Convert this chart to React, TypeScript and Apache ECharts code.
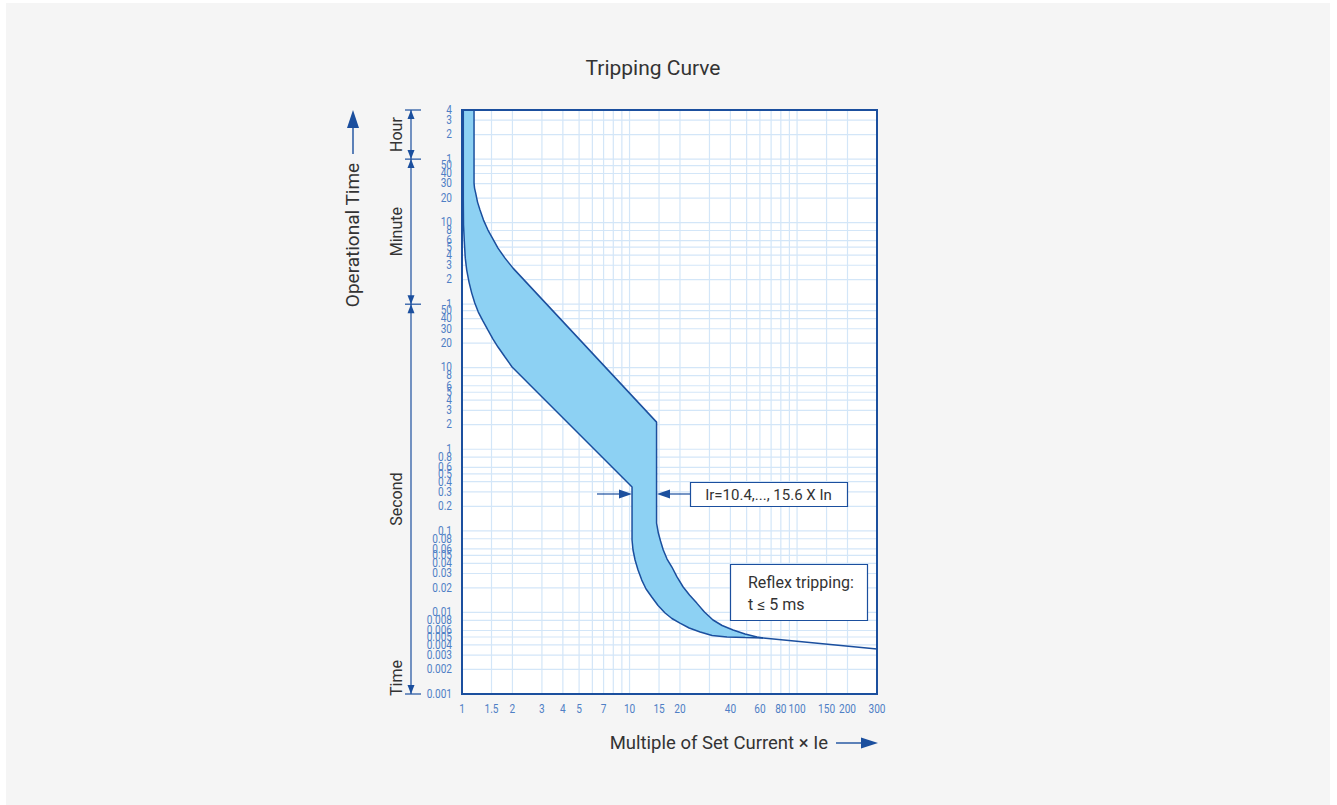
import React, { useEffect, useRef } from 'react';
import * as echarts from 'echarts';

// ---------- data ----------
const xTickLabels = [1, 1.5, 2, 3, 4, 5, 7, 10, 15, 20, 40, 60, 80, 100, 150, 200, 300];
const xGridValues = [1, 1.5, 2, 3, 4, 5, 6, 7, 8, 9, 10, 15, 20, 30, 40, 50, 60, 70, 80, 90, 100, 150, 200, 300];
const secondTicks = [0.001, 0.002, 0.003, 0.004, 0.005, 0.006, 0.008, 0.01, 0.02, 0.03, 0.04, 0.05, 0.06, 0.08, 0.1, 0.2, 0.3, 0.4, 0.5, 0.6, 0.8, 1, 2, 3, 4, 5, 6, 8, 10, 20, 30, 40, 50];
const minuteTicks = [1, 2, 3, 4, 5, 6, 8, 10, 20, 30, 40, 50];
const hourTicks = [1, 2, 3, 4];

// band boundaries: current multiple (x) and tripping time in seconds (y)
const upperX = [1.18, 1.18, 1.188, 1.207, 1.238, 1.281, 1.344, 1.429, 1.531, 1.64, 1.806, 2.016, 14.5, 14.5, 14.86, 15.31, 15.9, 16.75, 17.9, 19.2, 20.9, 22.8, 25.2, 28.0, 31.5, 35.7, 41.5, 48.9, 57.7, 62.7];
const upperY = [14400, 1829, 1589, 1380, 1070, 854, 644, 486, 377, 292, 220, 166, 2.15, 0.1247, 0.094, 0.075, 0.0582, 0.0451, 0.036, 0.0272, 0.0205, 0.01634, 0.013, 0.01011, 0.00807, 0.00691, 0.00609, 0.00544, 0.005, 0.00486];
const lowerX = [1.018, 1.018, 1.021, 1.035, 1.046, 1.067, 1.101, 1.143, 1.192, 1.251, 1.335, 1.429, 1.531, 1.64, 1.806, 1.99, 10.35, 10.35, 10.49, 10.79, 11.24, 11.83, 12.55, 13.57, 14.8, 16.3, 17.9, 20.0, 22.7, 26.4, 31.1, 38.2, 48.9, 62.7];
const lowerY = [14400, 1132, 559, 318, 220, 157, 112, 82, 61.9, 48, 37.2, 28.9, 22.4, 17.9, 13.5, 10.2, 0.344, 0.0771, 0.0582, 0.0439, 0.0331, 0.0249, 0.01936, 0.01545, 0.01215, 0.00984, 0.00842, 0.00741, 0.00644, 0.00575, 0.00521, 0.005, 0.00491, 0.00486];
const tailX = [62.7, 300];
const tailY = [0.00486, 0.00356];

const X_MIN = 1;
const X_MAX = 300;
const Y_MIN = 0.001;
const Y_MAX = 14400;

// ---------- styles ----------
const DARK = '#1b4f9e';
const FILL = '#8dd1f3';
const GRID = '#d3e6f8';
const TICK = '#4f7fc5';
const TEXT = '#333333';
const FONT = 'Roboto, sans-serif';

const L = Math.log10;

type Tick = { sec: number; label: string };
const yTicks: Tick[] = [
  ...secondTicks.map((v) => ({ sec: v, label: String(v) })),
  ...minuteTicks.map((v) => ({ sec: v * 60, label: String(v) })),
  ...hourTicks.map((v) => ({ sec: v * 3600, label: String(v) })),
];

function textEl(x: number, y: number, text: string, size: number, color: string, align: string, vAlign: string, rotation = 0, z = 100) {
  return {
    type: 'text',
    x,
    y,
    rotation,
    z,
    silent: true,
    style: {
      text,
      fill: color,
      font: `${size}px ${FONT}`,
      align,
      textAlign: align,
      verticalAlign: vAlign,
      textVerticalAlign: vAlign,
    },
  };
}

function lineEl(x1: number, y1: number, x2: number, y2: number, color: string, w = 1.2, z = 100) {
  return { type: 'line', z, silent: true, shape: { x1, y1, x2, y2 }, style: { stroke: color, lineWidth: w } };
}

function polyEl(points: number[][], color: string, z = 100) {
  return { type: 'polygon', z, silent: true, shape: { points }, style: { fill: color } };
}

export default function App() {
  const ref = useRef<HTMLDivElement>(null);

  useEffect(() => {
    if (!ref.current) return;
    const chart = echarts.init(ref.current, undefined, { renderer: 'svg' });

    const toPts = (xs: number[], ys: number[]) => xs.map((x, i) => [L(x), L(ys[i])]);
    const upper = toPts(upperX, upperY);
    const lower = toPts(lowerX, lowerY);
    const tail = toPts(tailX, tailY);

    const tickText = (x: number, y: number, text: string, align: string) => ({
      type: 'text',
      x,
      y,
      scaleX: 0.84,
      style: {
        text,
        fill: TICK,
        font: `12px ${FONT}`,
        align,
        textAlign: align,
        verticalAlign: 'middle',
        textVerticalAlign: 'middle',
      },
    });

    const option: any = {
      animation: false,
      backgroundColor: 'transparent',
      grid: {
        left: 462,
        top: 110,
        width: 415,
        height: 584,
        show: true,
        backgroundColor: '#ffffff',
        borderWidth: 0,
        containLabel: false,
        outerBoundsMode: 'none',
      },
      xAxis: { type: 'value', min: L(X_MIN), max: L(X_MAX), show: false },
      yAxis: { type: 'value', min: L(Y_MIN), max: L(Y_MAX), show: false },
      series: [
        {
          type: 'custom',
          silent: true,
          dimensions: ['x', 'y'],
          encode: { x: 0, y: 1 },
          data: xGridValues.map((v) => [L(v), L(Y_MIN)]),
          renderItem: (_p: any, api: any) => {
            const a = api.coord([api.value(0), L(Y_MIN)]);
            const b = api.coord([api.value(0), L(Y_MAX)]);
            return { type: 'line', shape: { x1: a[0], y1: a[1], x2: b[0], y2: b[1] }, style: { stroke: GRID, lineWidth: 1.2 } };
          },
        },
        {
          type: 'custom',
          silent: true,
          dimensions: ['x', 'y'],
          encode: { x: 0, y: 1 },
          data: yTicks.map((t) => [L(X_MIN), L(t.sec)]),
          renderItem: (_p: any, api: any) => {
            const a = api.coord([L(X_MIN), api.value(1)]);
            const b = api.coord([L(X_MAX), api.value(1)]);
            return { type: 'line', shape: { x1: a[0], y1: a[1], x2: b[0], y2: b[1] }, style: { stroke: GRID, lineWidth: 1.2 } };
          },
        },
        {
          type: 'custom',
          silent: true,
          dimensions: ['x', 'y'],
          encode: { x: 0, y: 1 },
          data: [[L(X_MIN), L(Y_MIN)]],
          renderItem: (_p: any, api: any) => {
            const pts = [...upper, ...lower.slice().reverse()].map((p) => api.coord(p));
            return { type: 'polygon', shape: { points: pts }, style: { fill: FILL } };
          },
        },
        { type: 'line', silent: true, symbol: 'none', data: upper, lineStyle: { color: DARK, width: 1.5 } },
        { type: 'line', silent: true, symbol: 'none', data: lower, lineStyle: { color: DARK, width: 1.5 } },
        { type: 'line', silent: true, symbol: 'none', data: tail, lineStyle: { color: DARK, width: 1.5 } },
        {
          type: 'custom',
          silent: true,
          clip: false,
          dimensions: ['x', 'y', 'i'],
          encode: { x: 0, y: 1 },
          data: xTickLabels.map((v, i) => [L(v), L(Y_MIN), i]),
          renderItem: (_p: any, api: any) => {
            const a = api.coord([api.value(0), L(Y_MIN)]);
            return tickText(a[0], a[1] + 15, String(xTickLabels[api.value(2)]), 'center');
          },
        },
        {
          type: 'custom',
          silent: true,
          clip: false,
          dimensions: ['x', 'y', 'i'],
          encode: { x: 0, y: 1 },
          data: yTicks.map((t, i) => [L(X_MIN), L(t.sec), i]),
          renderItem: (_p: any, api: any) => {
            const a = api.coord([L(X_MIN), api.value(1)]);
            return tickText(a[0] - 10, a[1], yTicks[api.value(2)].label, 'right');
          },
        },
      ],
    };
    chart.setOption(option);

    const px = (x: number, y: number) => chart.convertToPixel({ gridIndex: 0 }, [L(x), L(y)]) as number[];
    const tl = px(X_MIN, Y_MAX);
    const br = px(X_MAX, Y_MIN);
    const yTop = tl[1];
    const yHour = px(X_MIN, 3600)[1];
    const yMin = px(X_MIN, 60)[1];
    const yBot = br[1];
    const dx = 411;

    const g: any[] = [];
    // title
    g.push(textEl(653, 68, 'Tripping Curve', 21, TEXT, 'center', 'middle'));
    // y title + arrow
    g.push(textEl(352, 235, 'Operational Time', 19, TEXT, 'center', 'middle', Math.PI / 2));
    g.push(lineEl(353, 154, 353, 125, DARK, 1.4));
    g.push(polyEl([[353, yTop], [347, yTop + 18], [359, yTop + 18]], DARK));
    // dimension line
    g.push(lineEl(dx, yTop, dx, yBot, DARK, 1.2));
    [yTop, yHour, yMin, yBot].forEach((y) => g.push(lineEl(405, y, 421, y, DARK, 1.2)));
    const ah = 9;
    const aw = 3.5;
    g.push(polyEl([[dx, yTop], [dx - aw, yTop + ah], [dx + aw, yTop + ah]], DARK));
    [yHour, yMin].forEach((y) => {
      g.push(polyEl([[dx, y], [dx - aw, y - ah], [dx + aw, y - ah]], DARK));
      g.push(polyEl([[dx, y], [dx - aw, y + ah], [dx + aw, y + ah]], DARK));
    });
    g.push(polyEl([[dx, yBot], [dx - aw, yBot - ah], [dx + aw, yBot - ah]], DARK));
    g.push(textEl(396, (yTop + yHour) / 2, 'Hour', 16, TEXT, 'center', 'middle', Math.PI / 2));
    g.push(textEl(396, (yHour + yMin) / 2, 'Minute', 16, TEXT, 'center', 'middle', Math.PI / 2));
    g.push(textEl(396, (yMin + yBot) / 2, 'Second', 16, TEXT, 'center', 'middle', Math.PI / 2));
    g.push(textEl(396, yBot - 16, 'Time', 16, TEXT, 'center', 'middle', Math.PI / 2));
    // Ir annotation
    g.push({ type: 'rect', z: 100, silent: true, shape: { x: 690.5, y: 482.5, width: 157, height: 24 }, style: { fill: '#ffffff', stroke: DARK, lineWidth: 1.2 } });
    g.push(textEl(768.5, 495, 'Ir=10.4,..., 15.6 X In', 15, TEXT, 'center', 'middle'));
    g.push(lineEl(597, 494, 620, 494, DARK, 1.2));
    g.push(polyEl([[632, 494], [619, 489.5], [619, 498.5]], DARK));
    g.push(lineEl(669, 494, 690, 494, DARK, 1.2));
    g.push(polyEl([[657, 494], [670, 489.5], [670, 498.5]], DARK));
    // Reflex annotation
    g.push({ type: 'rect', z: 100, silent: true, shape: { x: 730.5, y: 564.5, width: 137, height: 56 }, style: { fill: '#ffffff', stroke: DARK, lineWidth: 1.2 } });
    g.push(textEl(748, 582, 'Reflex tripping:', 16, TEXT, 'left', 'middle'));
    g.push(textEl(748, 604, 't ≤ 5 ms', 16, TEXT, 'left', 'middle'));
    // x title + arrow
    g.push(textEl(828, 743, 'Multiple of Set Current × Ie', 18.5, TEXT, 'right', 'middle'));
    g.push(lineEl(836, 743, 863, 743, DARK, 1.4));
    g.push(polyEl([[878, 743], [861, 737.5], [861, 748.5]], DARK));
    // plot border
    g.push({ type: 'rect', z: 101, silent: true, shape: { x: tl[0], y: tl[1], width: br[0] - tl[0], height: br[1] - tl[1] }, style: { fill: 'none', stroke: DARK, lineWidth: 2 } });

    chart.setOption({ graphic: { elements: g } });

    return () => chart.dispose();
  }, []);

  return (
    <div style={{ position: 'fixed', left: 0, top: 0, width: 1337, height: 805, background: '#ffffff', overflow: 'hidden' }}>
      <div style={{ position: 'absolute', left: 6, top: 3, width: 1324, height: 802, background: '#f5f5f5' }} />
      <div ref={ref} style={{ position: 'absolute', left: 0, top: 0, width: 1337, height: 805 }} />
    </div>
  );
}
